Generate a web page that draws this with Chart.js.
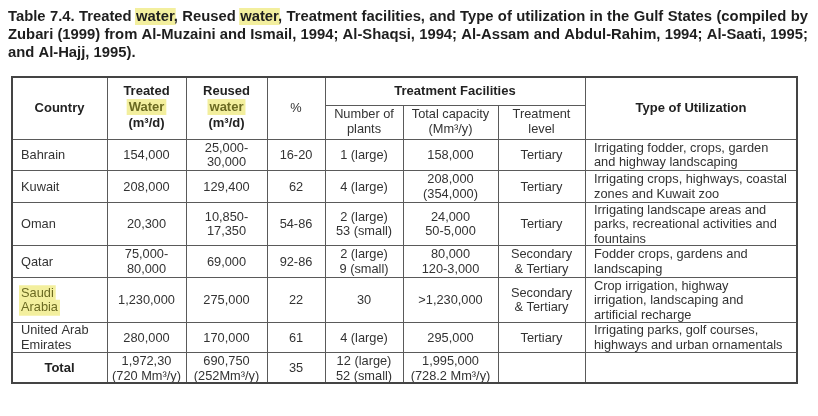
<!DOCTYPE html>
<html>
<head>
<meta charset="utf-8">
<script src="https://cdn.jsdelivr.net/npm/chart.js@4.4.1/dist/chart.umd.min.js"></script>
<style>
  html, body { margin: 0; padding: 0; background: #fff; }
  canvas { display: block; }
</style>
</head>
<body>
<canvas id="gulfTable" width="818" height="416"></canvas>
<script>
// --- text of the table ---
const titleLines = [
  'Table 7.4.  Treated water, Reused water, Treatment facilities, and Type of utilization in the Gulf States (compiled by',
  'Zubari (1999) from Al-Muzaini and Ismail, 1994; Al-Shaqsi, 1994; Al-Assam and Abdul-Rahim, 1994; Al-Saati, 1995;',
  'and Al-Hajj, 1995).',
];

const headerLabels = [
  ['Country'],
  ['Treated', 'Water', '(m³/d)'],
  ['Reused', 'water', '(m³/d)'],
  ['%'],
];
const groupLabel = ['Treatment Facilities'];
const subHeaderLabels = [['Number of', 'plants'], ['Total capacity', '(Mm³/y)'], ['Treatment', 'level']];
const utilHeader = ['Type of Utilization'];

const countries = [['Bahrain'], ['Kuwait'], ['Oman'], ['Qatar'], ['Saudi', 'Arabia'], ['United Arab', 'Emirates']];
const treatedWater = [['154,000'], ['208,000'], ['20,300'], ['75,000-', '80,000'], ['1,230,000'], ['280,000']];
const reusedWater = [['25,000-', '30,000'], ['129,400'], ['10,850-', '17,350'], ['69,000'], ['275,000'], ['170,000']];
const reusePercent = [['16-20'], ['62'], ['54-86'], ['92-86'], ['22'], ['61']];
const plantCounts = [['1 (large)'], ['4 (large)'], ['2 (large)', '53 (small)'], ['2 (large)', '9 (small)'], ['30'], ['4 (large)']];
const totalCapacity = [['158,000'], ['208,000', '(354,000)'], ['24,000', '50-5,000'], ['80,000', '120-3,000'], ['>1,230,000'], ['295,000']];
const treatmentLevel = [['Tertiary'], ['Tertiary'], ['Tertiary'], ['Secondary', '& Tertiary'], ['Secondary', '& Tertiary'], ['Tertiary']];
const utilization = [
  ['Irrigating fodder, crops, garden', 'and highway landscaping'],
  ['Irrigating crops, highways, coastal', 'zones and Kuwait zoo'],
  ['Irrigating landscape areas and', 'parks, recreational activities and', 'fountains'],
  ['Fodder crops, gardens and', 'landscaping'],
  ['Crop irrigation, highway', 'irrigation, landscaping and', 'artificial recharge'],
  ['Irrigating parks, golf courses,', 'highways and urban ornamentals'],
];
const totalRow = [['Total'], ['1,972,30', '(720 Mm³/y)'], ['690,750', '(252Mm³/y)'], ['35'],
  ['12 (large)', '52 (small)'], ['1,995,000', '(728.2 Mm³/y)'], [''], ['']];
const highlightedCountry = 'Saudi';

// --- layout (table units) ---
const colEdges = [0, 95, 174, 255, 313, 391, 486, 573, 785];
const rowEdges = [0, 28, 62, 93, 125, 168, 200, 245, 275, 306];
const pad = 9;

const FONT = '"Liberation Sans", Arial, Helvetica, sans-serif';
const HL = '#f3ef9e';

const mid = (a, b) => (a + b) / 2;
const cells = [];
function addCell(x, y, lines, opts) {
  cells.push(Object.assign({ x, y, lines, align: 'center', bold: false, lineH: 14.5, hl: [] }, opts || {}));
}

// header
headerLabels.forEach((lbl, i) => {
  addCell(mid(colEdges[i], colEdges[i + 1]), mid(rowEdges[0], rowEdges[2]) + (lbl.length > 1 ? -1 : 0), lbl,
    { bold: lbl[0] !== '%', lineH: 16, hl: lbl.length > 1 ? [1] : [] });
});
addCell(mid(colEdges[4], colEdges[7]), mid(rowEdges[0], rowEdges[1]), groupLabel, { bold: true });
subHeaderLabels.forEach((lbl, i) => {
  addCell(mid(colEdges[4 + i], colEdges[5 + i]), mid(rowEdges[1], rowEdges[2]), lbl, { lineH: 15.5 });
});
addCell(mid(colEdges[7], colEdges[8]), mid(rowEdges[0], rowEdges[2]), utilHeader, { bold: true });

// body
const bodyCols = [treatedWater, reusedWater, reusePercent, plantCounts, totalCapacity, treatmentLevel];
countries.forEach((c, r) => {
  const y = mid(rowEdges[r + 2], rowEdges[r + 3]) + 1;
  addCell(colEdges[0] + pad, y, c, { align: 'left', hl: c[0] === highlightedCountry ? [0, 1] : [] });
  bodyCols.forEach((col, i) => addCell(mid(colEdges[i + 1], colEdges[i + 2]), y, col[r]));
  addCell(colEdges[7] + pad, y, utilization[r], { align: 'left' });
});
const ty = mid(rowEdges[8], rowEdges[9]) + 1;
totalRow.forEach((v, i) => {
  addCell(mid(colEdges[i], colEdges[i + 1]), ty, v, { bold: i === 0, lineH: 15 });
});

const tablePlugin = {
  id: 'tablePlugin',
  afterDatasetsDraw(chart) {
    const ctx = chart.ctx;
    const xs = chart.scales.x, ys = chart.scales.y;
    const px = (v) => Math.round(xs.getPixelForValue(v)) + 0.5;
    const py = (v) => Math.round(ys.getPixelForValue(v)) + 0.5;
    ctx.save();

    // title: condensed bold, first two lines justified
    ctx.font = 'bold 14.5px ' + FONT;
    ctx.textBaseline = 'alphabetic';
    const x0 = 8, x1 = 808;
    const nat = ctx.measureText(titleLines[0]).width;
    const sx = (x1 - x0) / nat;
    titleLines.forEach((line, li) => {
      const words = line.split(/\s+/);
      const ws = words.map((w) => ctx.measureText(w).width);
      const sum = ws.reduce((a, b) => a + b, 0);
      const target = (x1 - x0) / sx;
      const gap = li < titleLines.length - 1 ? (target - sum) / (words.length - 1) : ctx.measureText(' ').width;
      const by = 21 + li * 18;
      ctx.save();
      ctx.translate(x0, by);
      ctx.scale(sx, 1);
      let cx = 0;
      words.forEach((w, wi) => {
        if (/^water/.test(w)) {
          ctx.fillStyle = HL;
          ctx.fillRect(cx - 1, -13, ctx.measureText('water').width + 2, 17);
        }
        ctx.fillStyle = '#1e1e1e';
        ctx.fillText(w, cx, 0);
        cx += ws[wi] + gap;
      });
      ctx.restore();
    });

    // cell texts (positions from the scatter elements)
    const meta = chart.getDatasetMeta(0);
    ctx.textBaseline = 'middle';
    meta.data.forEach((el, i) => {
      const c = cells[i];
      ctx.font = (c.bold ? 'bold 13px ' : '12.8px ') + FONT;
      ctx.textAlign = c.align;
      const y0 = el.y - (c.lines.length - 1) * c.lineH / 2;
      c.lines.forEach((t, li) => {
        const y = y0 + li * c.lineH;
        if (c.hl.includes(li)) {
          const w = ctx.measureText(t).width;
          const lx = c.align === 'left' ? el.x : el.x - w / 2;
          ctx.fillStyle = HL;
          ctx.fillRect(lx - 2, y - 8, w + 4, 16);
          ctx.fillStyle = '#6b6a22';
        } else {
          ctx.fillStyle = c.bold ? '#222' : '#333';
        }
        ctx.fillText(t, el.x, y);
      });
    });

    // grid lines
    ctx.strokeStyle = '#5a5a5a';
    ctx.lineWidth = 1;
    const seg = (xa, ya, xb, yb) => {
      ctx.beginPath();
      ctx.moveTo(px(xa), py(ya));
      ctx.lineTo(px(xb), py(yb));
      ctx.stroke();
    };
    const L = colEdges[0], R = colEdges[colEdges.length - 1];
    const T = rowEdges[0], B = rowEdges[rowEdges.length - 1];
    rowEdges.slice(2, -1).forEach((y) => seg(L, y, R, y));
    seg(colEdges[4], rowEdges[1], colEdges[7], rowEdges[1]);
    [1, 2, 3, 4, 7].forEach((i) => seg(colEdges[i], T, colEdges[i], B));
    [5, 6].forEach((i) => seg(colEdges[i], rowEdges[1], colEdges[i], B));
    ctx.strokeStyle = '#444';
    ctx.lineWidth = 2;
    ctx.strokeRect(Math.round(xs.getPixelForValue(L)), Math.round(ys.getPixelForValue(T)),
      Math.round(xs.getPixelForValue(R) - xs.getPixelForValue(L)),
      Math.round(ys.getPixelForValue(B) - ys.getPixelForValue(T)));
    ctx.restore();
  },
};

new Chart(document.getElementById('gulfTable').getContext('2d'), {
  type: 'scatter',
  data: {
    datasets: [{
      data: cells.map((c) => ({ x: c.x, y: c.y })),
      pointRadius: 0,
      pointHoverRadius: 0,
    }],
  },
  options: {
    responsive: false,
    devicePixelRatio: 1,
    animation: false,
    layout: { padding: { left: 12, right: 21, top: 77, bottom: 33 } },
    scales: {
      x: { type: 'linear', display: false, min: colEdges[0], max: colEdges[colEdges.length - 1] },
      y: { type: 'linear', display: false, min: rowEdges[0], max: rowEdges[rowEdges.length - 1], reverse: true },
    },
    plugins: {
      legend: { display: false },
      tooltip: { enabled: false },
    },
  },
  plugins: [tablePlugin],
});
</script>
</body>
</html>
